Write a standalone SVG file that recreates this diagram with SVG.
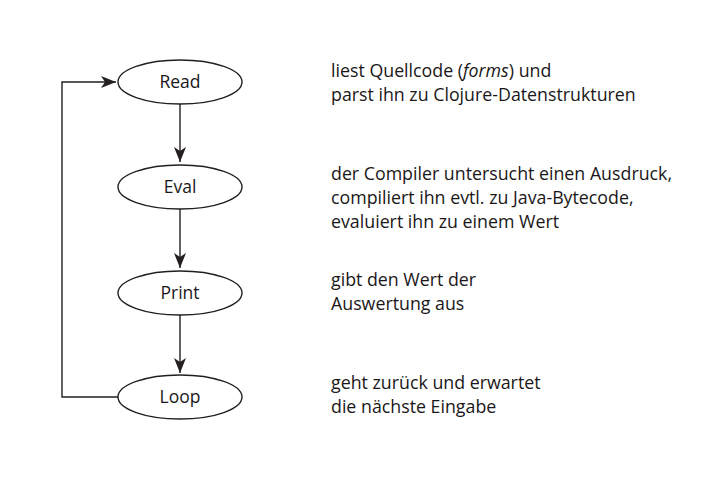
<svg xmlns="http://www.w3.org/2000/svg" width="705" height="480" viewBox="0 0 705 480">
<style>
.node ellipse{fill:#fff;stroke:#231f20;stroke-width:1.4}
.lbl{font-family:"Open Sans","Liberation Sans",sans-serif;font-size:17.5px;fill:#1a1718;text-anchor:middle}
.txt{font-family:"Open Sans","Liberation Sans",sans-serif;font-size:17.8px;fill:#1a1718}
.conn path{fill:none;stroke:#231f20;stroke-width:1.4}
</style>
<defs>
<marker id="ah" viewBox="0 0 15 12" refX="15" refY="6" markerWidth="15" markerHeight="12" markerUnits="userSpaceOnUse" orient="auto">
<path d="M0,0 L15,6 L0,12 L4,6 Z" fill="#231f20"/>
</marker>
</defs>
<rect width="705" height="480" fill="#fff"/>
<g class="conn">
<path d="M180,104 V162" marker-end="url(#ah)"/>
<path d="M180,209 V268" marker-end="url(#ah)"/>
<path d="M180,315 V373" marker-end="url(#ah)"/>
<path d="M118,397 H62 V82 H116" marker-end="url(#ah)"/>
</g>
<g id="read" class="node"><ellipse cx="180" cy="82" rx="62" ry="22"/><text class="lbl" x="180" y="88">Read</text></g>
<g id="eval" class="node"><ellipse cx="180" cy="187" rx="62" ry="22"/><text class="lbl" x="180" y="193">Eval</text></g>
<g id="print" class="node"><ellipse cx="180" cy="293" rx="62" ry="22"/><text class="lbl" x="180" y="299">Print</text></g>
<g id="loop" class="node"><ellipse cx="180" cy="397" rx="62" ry="22"/><text class="lbl" x="180" y="403">Loop</text></g>
<g id="desc">
<text class="txt" x="331" y="77">liest Quellcode (<tspan font-style="italic">forms</tspan>) und</text>
<text class="txt" x="331" y="101">parst ihn zu Clojure-Datenstrukturen</text>
<text class="txt" x="331" y="180">der Compiler untersucht einen Ausdruck,</text>
<text class="txt" x="331" y="204">compiliert ihn evtl. zu Java-Bytecode,</text>
<text class="txt" x="331" y="228">evaluiert ihn zu einem Wert</text>
<text class="txt" x="331" y="286">gibt den Wert der</text>
<text class="txt" x="331" y="310">Auswertung aus</text>
<text class="txt" x="331" y="389">geht zurück und erwartet</text>
<text class="txt" x="331" y="413">die nächste Eingabe</text>
</g>
</svg>
